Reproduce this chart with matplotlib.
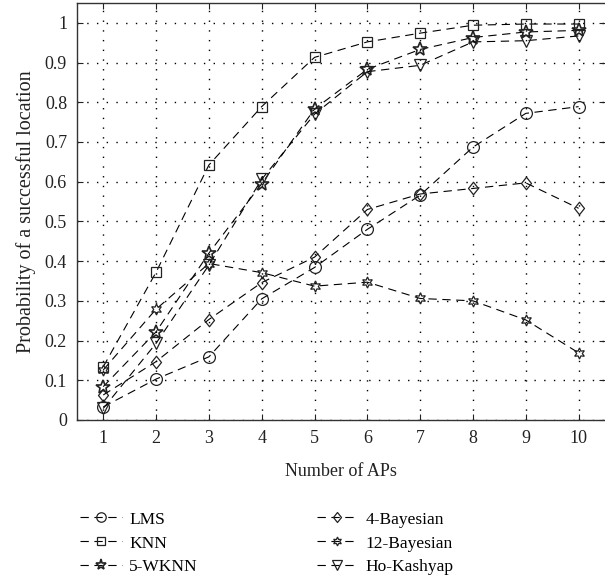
import matplotlib
matplotlib.use("Agg")
import matplotlib.pyplot as plt
from matplotlib.ticker import FuncFormatter
from matplotlib.path import Path

plt.rcParams['font.family'] = ['Liberation Serif', 'DejaVu Serif']
plt.rcParams['lines.scale_dashes'] = False

aps = [1, 2, 3, 4, 5, 6, 7, 8, 9, 10]
lms = [0.033, 0.103, 0.159, 0.305, 0.384, 0.48, 0.566, 0.687, 0.772, 0.789]
knn = [0.134, 0.372, 0.642, 0.789, 0.913, 0.952, 0.974, 0.994, 0.997, 0.997]
wknn5 = [0.084, 0.222, 0.42, 0.595, 0.783, 0.883, 0.933, 0.963, 0.977, 0.981]
bayes4 = [0.063, 0.147, 0.253, 0.346, 0.41, 0.53, 0.569, 0.583, 0.597, 0.533]
bayes12 = [0.126, 0.279, 0.394, 0.371, 0.337, 0.347, 0.306, 0.300, 0.252, 0.169]
hok = [0.029, 0.193, 0.39, 0.606, 0.77, 0.877, 0.893, 0.952, 0.955, 0.967]

names = ["LMS", "KNN", "5-WKNN", "4-Bayesian", "12-Bayesian", "Ho-Kashyap"]
series = [lms, knn, wknn5, bayes4, bayes12, hok]

diamond = Path([(0, 1), (0.8, 0), (0, -1), (-0.8, 0), (0, 1)],
               [Path.MOVETO, Path.LINETO, Path.LINETO, Path.LINETO, Path.CLOSEPOLY])
markers = ['o', 's', '*', diamond, (6, 1, 0), 'v']
msizes = [8.5, 7.5, 10, 9, 8, 9]
mews = [0.9, 0.9, 1.2, 0.9, 0.9, 0.9]

fig = plt.figure(figsize=(6.05, 5.83), dpi=100)
ax = fig.add_axes([0.127, 0.2796, 0.873, 0.7153])

for name, ys, m, ms, mew in zip(names, series, markers, msizes, mews):
    ax.plot(aps, ys, color='black', linestyle=(0, (6, 4)), linewidth=0.8,
            marker=m, markersize=ms, markerfacecolor='none',
            markeredgecolor='#222222', markeredgewidth=mew, label=name)

ax.set_xlim(0.5, 10.5)
ax.set_ylim(0, 1.05)
ax.set_xticks(aps)
ax.set_yticks([i / 10 for i in range(11)])
ax.yaxis.set_major_formatter(FuncFormatter(lambda v, p: '%g' % round(v, 1)))
ax.grid(True, color='black', linestyle=(0, (1, 6)), linewidth=1.0)
ax.tick_params(direction='in', top=True, right=True, length=4,
               labelsize=13, colors='#222222', pad=7)
for s in ax.spines.values():
    s.set_linewidth(1.0)
    s.set_color('#333333')
ax.spines['right'].set_visible(False)

ax.set_xlabel('Number of APs', fontsize=13, labelpad=12, color='#222222')
ax.set_ylabel('Probability of a successful location', fontsize=14.5,
              labelpad=6, color='#222222')

h, l = ax.get_legend_handles_labels()
fig.legend(h, l, ncol=2, loc='upper left', bbox_to_anchor=(0.1215, 0.1347),
           frameon=False, fontsize=12.5, handlelength=2.4, markerscale=0.8,
           columnspacing=6.85, labelspacing=0.45, handletextpad=0.4,
           borderaxespad=0)

fig.savefig('out.png', dpi=100)
